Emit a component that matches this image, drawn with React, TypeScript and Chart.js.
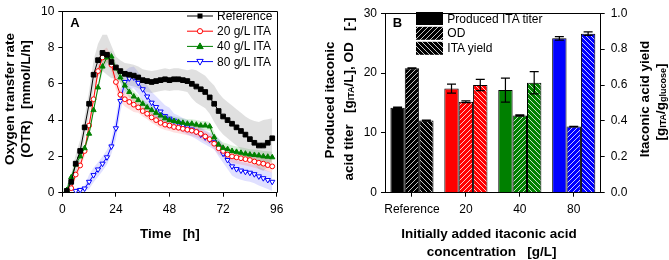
import React, { useEffect, useRef } from 'react';
import { Chart, registerables } from 'chart.js';

Chart.register(...registerables);

const FONT = "'Liberation Sans', Arial, Helvetica, sans-serif";

// ---------------- Panel A data (OTR, mmol/L/h) ----------------
const TIME_H = [2, 4, 6, 8, 10, 12, 14, 16, 18, 20, 22, 24, 26, 28, 30, 32, 34, 36, 38, 40, 42, 44, 46, 48, 50, 52, 54, 56, 58, 60, 62, 64, 66, 68, 70, 72, 74, 76, 78, 80, 82, 84, 86, 88, 90, 92, 94];

const OTR_REF = [0.1, 0.6, 1.6, 2.3, 3.6, 4.9, 6.5, 7.3, 7.7, 7.6, 7.2, 6.9, 6.7, 6.55, 6.5, 6.45, 6.35, 6.2, 6.15, 6.1, 6.15, 6.2, 6.25, 6.2, 6.25, 6.25, 6.2, 6.15, 6.0, 5.85, 5.7, 5.55, 5.25, 4.9, 4.5, 4.2, 4.0, 3.8, 3.6, 3.4, 3.2, 2.95, 2.75, 2.6, 2.6, 2.75, 3.0];
const OTR_20 = [null, 0.25, 1.0, 1.5, 2.3, 3.7, 5.15, 6.7, 7.45, 7.6, 7.05, 6.1, 5.4, 5.15, 5.0, 4.85, 4.7, 4.5, 4.35, 4.15, 4.0, 3.85, 3.75, 3.7, 3.62, 3.58, 3.52, 3.47, 3.42, 3.35, 3.25, 3.1, 2.95, 2.7, 2.45, 2.3, 2.1, 2.0, 1.95, 1.9, 1.85, 1.8, 1.72, 1.65, 1.6, 1.52, 1.45];
const OTR_40 = [0.15, 0.85, 1.55, 2.0, 2.45, 3.25, 4.55, 5.8, 6.95, 7.45, 7.5, 6.85, 6.35, 5.9, 5.55, 5.3, 5.1, 4.9, 4.7, 4.55, 4.4, 4.25, 4.1, 4.0, 3.95, 3.9, 3.85, 3.8, 3.8, 3.75, 3.7, 3.7, 3.65, 3.05, 2.65, 2.47, 2.4, 2.3, 2.25, 2.2, 2.15, 2.1, 2.08, 2.05, 2.0, 1.98, 1.95];
const OTR_80 = [null, null, 0.1, 0.15, 0.23, 0.6, 0.97, 1.28, 1.6, 1.95, 2.55, 3.55, 5.05, 6.1, 6.3, 6.35, 6.05, 5.7, 5.3, 4.96, 4.72, 4.47, 4.22, 4.08, 3.97, 3.85, 3.72, 3.6, 3.48, 3.36, 3.2, 3.05, 2.92, 2.78, 2.5, 2.15, 1.8, 1.45, 1.3, 1.22, 1.15, 1.1, 1.02, 0.9, 0.8, 0.7, 0.6];

// scatter of the raw (unsmoothed) measurement around each curve
const SPREAD_REF = [0.3, 0.4, 0.5, 0.6, 0.6, 0.7, 0.8, 0.9, 1.0, 1.1, 0.9, 0.6, 0.6, 0.6, 0.6, 0.6, 0.6, 0.6, 0.6, 0.6, 0.6, 0.6, 0.6, 0.6, 0.6, 0.6, 0.6, 0.6, 0.8, 0.9, 0.9, 0.9, 0.9, 1.0, 1.0, 1.0, 1.0, 1.0, 1.0, 1.0, 1.0, 1.1, 1.2, 1.3, 1.4, 1.3, 1.1];
const SPREAD_20 = [0.2, 0.2, 0.2, 0.2, 0.3, 0.3, 0.3, 0.3, 0.4, 0.4, 0.4, 0.4, 0.4, 0.4, 0.4, 0.4, 0.3, 0.3, 0.3, 0.3, 0.3, 0.3, 0.3, 0.3, 0.3, 0.3, 0.3, 0.3, 0.3, 0.3, 0.3, 0.3, 0.3, 0.3, 0.35, 0.35, 0.35, 0.35, 0.35, 0.35, 0.35, 0.35, 0.35, 0.35, 0.35, 0.35, 0.35];
const SPREAD_40 = [0.2, 0.2, 0.2, 0.2, 0.2, 0.2, 0.2, 0.2, 0.3, 0.3, 0.3, 0.3, 0.3, 0.3, 0.3, 0.3, 0.25, 0.25, 0.25, 0.25, 0.25, 0.25, 0.25, 0.25, 0.25, 0.25, 0.25, 0.25, 0.25, 0.25, 0.25, 0.25, 0.25, 0.3, 0.3, 0.3, 0.3, 0.3, 0.3, 0.3, 0.3, 0.3, 0.3, 0.3, 0.3, 0.3, 0.3];
const SPREAD_80 = [0.15, 0.15, 0.15, 0.15, 0.15, 0.4, 0.4, 0.4, 0.4, 0.4, 0.4, 0.6, 0.6, 0.6, 0.6, 0.6, 0.6, 0.6, 0.6, 0.6, 0.6, 0.6, 0.6, 0.6, 0.4, 0.4, 0.4, 0.4, 0.4, 0.4, 0.4, 0.4, 0.4, 0.4, 0.5, 0.5, 0.5, 0.5, 0.5, 0.5, 0.5, 0.5, 0.5, 0.5, 0.5, 0.5, 0.5];

const SERIES_LABELS = ['Reference', '20 g/L ITA', '40 g/L ITA', '80 g/L ITA'];
const SERIES_COLORS = ['#000000', '#ff0000', '#008000', '#0000ff'];
const BAND_COLORS = ['rgba(130,130,130,0.25)', 'rgba(255,60,60,0.16)', 'rgba(40,160,40,0.18)', 'rgba(70,70,255,0.17)'];

// ---------------- Panel B data ----------------
const CATEGORIES = ['Reference', '20', '40', '80'];
const TITER = [14.2, 17.4, 17.15, 25.8];
const TITER_ERR = [0.1, 0.75, 2.0, 0.3];
const OD = [20.8, 15.2, 12.9, 11.05];
const OD_ERR = [0.08, 0.15, 0.1, 0.05];
const YIELD = [0.402, 0.6, 0.613, 0.886];
const YIELD_ERR = [0.003, 0.031, 0.062, 0.01];
const BAR_COLORS = ['#000000', '#ff0000', '#008000', '#0000ff'];
const BAR_LEGEND = ['Produced ITA titer', 'OD', 'ITA yield'];

function makeHatch(bg: string, line: string, forward: boolean) {
  const s = 5;
  const c = document.createElement('canvas');
  c.width = s;
  c.height = s;
  const g = c.getContext('2d')!;
  g.fillStyle = bg;
  g.fillRect(0, 0, s, s);
  g.strokeStyle = line;
  g.lineWidth = 1;
  g.beginPath();
  if (forward) {
    g.moveTo(0, s); g.lineTo(s, 0);
    g.moveTo(-1, 1); g.lineTo(1, -1);
    g.moveTo(s - 1, s + 1); g.lineTo(s + 1, s - 1);
  } else {
    g.moveTo(0, 0); g.lineTo(s, s);
    g.moveTo(-1, s - 1); g.lineTo(1, s + 1);
    g.moveTo(s - 1, -1); g.lineTo(s + 1, 1);
  }
  g.stroke();
  return g.createPattern(c, 'repeat')!;
}

const tickFont = { family: FONT, size: 12 };

function PanelA() {
  const ref = useRef<HTMLCanvasElement>(null);
  useEffect(() => {
    const series = [OTR_REF, OTR_20, OTR_40, OTR_80];
    const spreads = [SPREAD_REF, SPREAD_20, SPREAD_40, SPREAD_80];
    const styles = [
      { pointStyle: 'rect', radius: 3.3, bg: '#000000', rot: 0 },
      { pointStyle: 'circle', radius: 2.4, bg: '#ffffff', rot: 0 },
      { pointStyle: 'triangle', radius: 3.0, bg: '#008000', rot: 0 },
      { pointStyle: 'triangle', radius: 3.0, bg: '#ffffff', rot: 180 },
    ];
    const drawOrder = [0, 2, 1, 3];
    const datasets: any[] = [];
    series.forEach((vals, k) => {
      datasets.push({
        label: SERIES_LABELS[k],
        data: TIME_H.map((t, i) => ({ x: t, y: vals[i] })),
        borderColor: SERIES_COLORS[k],
        borderWidth: 1,
        pointStyle: styles[k].pointStyle,
        pointRadius: styles[k].radius,
        pointRotation: styles[k].rot,
        pointBackgroundColor: styles[k].bg,
        pointBorderColor: SERIES_COLORS[k],
        pointBorderWidth: 1,
        fill: false,
        order: drawOrder[k],
      });
    });
    series.forEach((vals, k) => {
      const spr = spreads[k];
      datasets.push({
        data: TIME_H.map((t, i) => ({ x: t, y: vals[i] == null ? null : (vals[i] as number) - spr[i] })),
        borderWidth: 0,
        pointRadius: 0,
        fill: false,
        order: 10,
      });
      datasets.push({
        data: TIME_H.map((t, i) => ({ x: t, y: vals[i] == null ? null : (vals[i] as number) + spr[i] })),
        borderWidth: 0,
        pointRadius: 0,
        backgroundColor: BAND_COLORS[k],
        fill: '-1',
        order: 10,
      });
    });

    const frame = {
      id: 'frameA',
      afterDraw(c: any) {
        const { left, top, right, bottom } = c.chartArea;
        const ctx = c.ctx;
        ctx.save();
        ctx.strokeStyle = '#000';
        ctx.lineWidth = 1;
        const t = Math.round(top) + 0.5;
        const r = Math.round(right) + 0.5;
        ctx.beginPath();
        ctx.moveTo(left, t);
        ctx.lineTo(r, t);
        ctx.lineTo(r, bottom);
        ctx.stroke();
        ctx.restore();
      },
    };

    const chart = new Chart(ref.current!, {
      type: 'line',
      data: { datasets },
      options: {
        animation: false,
        responsive: false,
        events: [],
        layout: { padding: { top: 5.7, right: 63.3, left: 0, bottom: 0 } },
        plugins: { legend: { display: false }, tooltip: { enabled: false } },
        scales: {
          x: {
            type: 'linear',
            min: 0,
            max: 96,
            afterFit: (s: any) => { s.height = 67.3; },
            ticks: { stepSize: 24, color: '#000', font: tickFont, padding: 6, maxRotation: 0 },
            grid: { drawOnChartArea: false, tickLength: 4, color: '#000' },
            border: { display: true, color: '#000', width: 1 },
          },
          y: {
            type: 'linear',
            min: 0,
            max: 10,
            afterFit: (s: any) => { s.width = 62.3; },
            ticks: { stepSize: 2, color: '#000', font: tickFont, padding: 4 },
            grid: { drawOnChartArea: false, tickLength: 4, color: '#000' },
            border: { display: true, color: '#000', width: 1 },
          },
        },
      } as any,
      plugins: [frame],
    });
    return () => chart.destroy();
  }, []);
  return <canvas ref={ref} width={340} height={260} style={{ position: 'absolute', left: 0, top: 0, width: 340, height: 260 }} />;
}

function PanelB() {
  const ref = useRef<HTMLCanvasElement>(null);
  useEffect(() => {
    const lineFor = (c: string) => (c === '#000000' ? '#c4c4c4' : 'rgba(255,255,255,0.78)');
    const datasets: any[] = [
      {
        label: BAR_LEGEND[0],
        data: TITER,
        errors: TITER_ERR,
        yAxisID: 'y',
        backgroundColor: BAR_COLORS,
        borderColor: '#000',
        borderWidth: 1,
      },
      {
        label: BAR_LEGEND[1],
        data: OD,
        errors: OD_ERR,
        yAxisID: 'y',
        backgroundColor: BAR_COLORS.map((c) => makeHatch(c, lineFor(c), true)),
        borderColor: '#000',
        borderWidth: 1,
      },
      {
        label: BAR_LEGEND[2],
        data: YIELD,
        errors: YIELD_ERR,
        yAxisID: 'y1',
        backgroundColor: BAR_COLORS.map((c) => makeHatch(c, lineFor(c), false)),
        borderColor: '#000',
        borderWidth: 1,
      },
    ];

    const errorBars = {
      id: 'errorBars',
      afterDatasetsDraw(c: any) {
        const ctx = c.ctx;
        ctx.save();
        ctx.strokeStyle = '#000';
        ctx.lineWidth = 1.2;
        c.data.datasets.forEach((ds: any, di: number) => {
          const meta = c.getDatasetMeta(di);
          const scale = c.scales[meta.yAxisID];
          meta.data.forEach((el: any, i: number) => {
            const v = ds.data[i];
            const e = ds.errors[i];
            const yT = scale.getPixelForValue(v + e);
            const yB = scale.getPixelForValue(v - e);
            const x = el.x;
            ctx.beginPath();
            ctx.moveTo(x, yT); ctx.lineTo(x, yB);
            ctx.moveTo(x - 4.5, yT); ctx.lineTo(x + 4.5, yT);
            ctx.moveTo(x - 4.5, yB); ctx.lineTo(x + 4.5, yB);
            ctx.stroke();
          });
        });
        ctx.restore();
      },
    };
    const frame = {
      id: 'frameB',
      afterDraw(c: any) {
        const { left, top, right } = c.chartArea;
        const ctx = c.ctx;
        ctx.save();
        ctx.strokeStyle = '#000';
        ctx.lineWidth = 1;
        const t = Math.round(top) + 0.5;
        ctx.beginPath();
        ctx.moveTo(left, t);
        ctx.lineTo(right, t);
        ctx.stroke();
        ctx.restore();
      },
    };

    const chart = new Chart(ref.current!, {
      type: 'bar',
      data: { labels: CATEGORIES, datasets },
      options: {
        animation: false,
        responsive: false,
        events: [],
        categoryPercentage: 0.8,
        barPercentage: 1.0,
        layout: { padding: { top: 6, right: 0, left: 0, bottom: 0 } },
        plugins: { legend: { display: false }, tooltip: { enabled: false } },
        scales: {
          x: {
            type: 'category',
            afterFit: (s: any) => { s.height = 67.3; },
            ticks: { color: '#000', font: tickFont, padding: 6, maxRotation: 0, autoSkip: false },
            grid: { drawOnChartArea: false, tickLength: 4, color: '#000', offset: false },
            border: { display: true, color: '#000', width: 1 },
          },
          y: {
            position: 'left',
            min: 0,
            max: 30,
            afterFit: (s: any) => { s.width = 45; },
            ticks: { stepSize: 10, color: '#000', font: tickFont, padding: 4 },
            grid: { drawOnChartArea: false, tickLength: 4, color: '#000' },
            border: { display: true, color: '#000', width: 1 },
          },
          y1: {
            position: 'right',
            min: 0,
            max: 1,
            afterFit: (s: any) => { s.width = 68.3; },
            ticks: { stepSize: 0.2, color: '#000', font: tickFont, padding: 6, callback: (v: any) => Number(v).toFixed(1) },
            grid: { drawOnChartArea: false, tickLength: 4, color: '#000' },
            border: { display: true, color: '#000', width: 1 },
          },
        },
      } as any,
      plugins: [errorBars, frame],
    });
    return () => chart.destroy();
  }, []);
  return <canvas ref={ref} width={329} height={260} style={{ position: 'absolute', left: 340, top: 0, width: 329, height: 260 }} />;
}

function LegendMarker({ k, x, y }: { k: number; x: number; y: number }) {
  const c = SERIES_COLORS[k];
  if (k === 0) return <rect x={x - 2.5} y={y - 2.5} width={5} height={5} fill={c} />;
  if (k === 1) return <circle cx={x} cy={y} r={2.6} fill="#fff" stroke={c} strokeWidth={1} />;
  if (k === 2) return <polygon points={`${x},${y - 3.5} ${x + 3.2},${y + 2.2} ${x - 3.2},${y + 2.2}`} fill={c} stroke={c} strokeWidth={1} />;
  return <polygon points={`${x},${y + 3.5} ${x + 3.2},${y - 2.2} ${x - 3.2},${y - 2.2}`} fill="#fff" stroke={c} strokeWidth={1} />;
}

function Overlay() {
  const bold = { fontWeight: 700, fontSize: 13.5 } as const;
  const legendRowsA = [16, 31.2, 46.4, 61.6];
  const legendRowsB = [18.5, 33.3, 48.3];
  const legendFillsB = ['#000', 'url(#hatchFwd)', 'url(#hatchBack)'];
  return (
    <svg width={669} height={260} style={{ position: 'absolute', left: 0, top: 0, pointerEvents: 'none' }} fontFamily={FONT}>
      <defs>
        <pattern id="hatchFwd" width="5" height="5" patternUnits="userSpaceOnUse">
          <rect width="5" height="5" fill="#000" />
          <path d="M0,5 L5,0 M-1,1 L1,-1 M4,6 L6,4" stroke="#c4c4c4" strokeWidth="1" />
        </pattern>
        <pattern id="hatchBack" width="5" height="5" patternUnits="userSpaceOnUse">
          <rect width="5" height="5" fill="#000" />
          <path d="M0,0 L5,5 M-1,4 L1,6 M4,-1 L6,1" stroke="#c4c4c4" strokeWidth="1" />
        </pattern>
      </defs>

      {/* Panel A */}
      <text x={75} y={22.5} fontWeight={700} fontSize={13} textAnchor="middle" dominantBaseline="central">A</text>
      {SERIES_LABELS.map((lab, k) => (
        <g key={lab}>
          <line x1={187} x2={213} y1={legendRowsA[k]} y2={legendRowsA[k]} stroke={SERIES_COLORS[k]} strokeWidth={1} />
          <LegendMarker k={k} x={200} y={legendRowsA[k]} />
          <text x={217} y={legendRowsA[k]} fontSize={12} dominantBaseline="central">{lab}</text>
        </g>
      ))}
      <text transform="translate(9,99) rotate(-90)" textAnchor="middle" dominantBaseline="central" {...bold}>Oxygen transfer rate</text>
      <text transform="translate(25.5,99) rotate(-90)" textAnchor="middle" dominantBaseline="central" style={{ whiteSpace: 'pre' }} {...bold}>(OTR)   [mmol/L/h]</text>
      <text x={170} y={233.3} textAnchor="middle" dominantBaseline="central" style={{ whiteSpace: 'pre' }} {...bold}>Time   [h]</text>

      {/* Panel B */}
      <text x={397.5} y={22.5} fontWeight={700} fontSize={13} textAnchor="middle" dominantBaseline="central">B</text>
      {BAR_LEGEND.map((lab, k) => (
        <g key={lab}>
          <rect x={416} y={legendRowsB[k] - 6.5} width={27} height={13} fill={legendFillsB[k]} />
          <text x={447.3} y={legendRowsB[k]} fontSize={12} dominantBaseline="central">{lab}</text>
        </g>
      ))}
      <text transform="translate(329,100) rotate(-90)" textAnchor="middle" dominantBaseline="central" {...bold}>Produced itaconic</text>
      <text transform="translate(348,99) rotate(-90)" textAnchor="middle" dominantBaseline="central" style={{ whiteSpace: 'pre' }} {...bold}>
        <tspan>acid titer   [g</tspan>
        <tspan fontSize={9} dy={3}>ITA</tspan>
        <tspan dy={-3}>/L], OD   [-]</tspan>
      </text>
      <text transform="translate(644,99) rotate(-90)" textAnchor="middle" dominantBaseline="central" {...bold}>Itaconic acid yield</text>
      <text transform="translate(660,102) rotate(-90)" textAnchor="middle" dominantBaseline="central" {...bold}>
        <tspan>[g</tspan>
        <tspan fontSize={9} dy={3}>ITA</tspan>
        <tspan dy={-3}>/g</tspan>
        <tspan fontSize={9} dy={3}>glucose</tspan>
        <tspan dy={-3}>]</tspan>
      </text>
      <text x={489} y={233.3} textAnchor="middle" dominantBaseline="central" {...bold}>Initially added itaconic acid</text>
      <text x={491.5} y={251.7} textAnchor="middle" dominantBaseline="central" style={{ whiteSpace: 'pre' }} {...bold}>concentration   [g/L]</text>
    </svg>
  );
}

export default function App() {
  return (
    <div style={{ position: 'absolute', left: 0, top: 0, width: 669, height: 260, background: '#fff', overflow: 'hidden' }}>
      <PanelA />
      <PanelB />
      <Overlay />
    </div>
  );
}
